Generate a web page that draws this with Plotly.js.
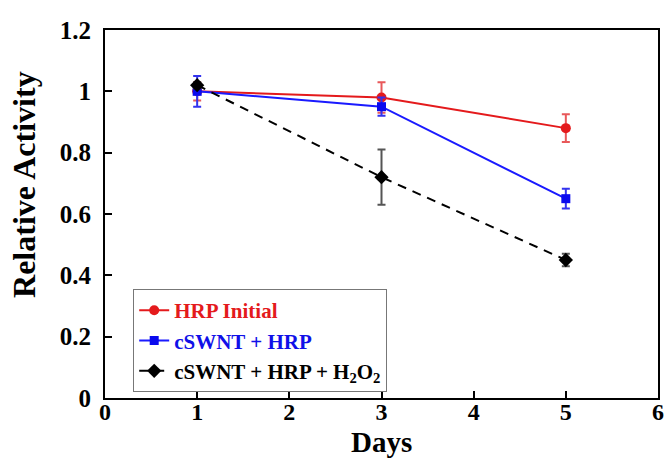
<!DOCTYPE html>
<html><head><meta charset="utf-8">
<script src="https://cdn.plot.ly/plotly-3.0.1.min.js"></script>
<style>body{margin:0;background:#fff}#c{width:665px;height:460px}</style>
</head><body><div id="c"></div>
<script>
const days = [1, 3, 5];
const hrpInitial = [1.00, 0.98, 0.88];
const hrpInitialErr = [0.03, 0.05, 0.045];
const cswntHrp = [1.00, 0.95, 0.65];
const cswntHrpErr = [0.05, 0.03, 0.032];
const cswntHrpH2o2 = [1.02, 0.72, 0.45];
const cswntHrpH2o2Err = [0.01, 0.09, 0.02];
const names = ['HRP Initial', 'cSWNT + HRP', 'cSWNT + HRP + H<sub>2</sub>O<sub>2</sub>'];
const xTicks = [0, 1, 2, 3, 4, 5, 6];
const yTicks = [0, 0.2, 0.4, 0.6, 0.8, 1, 1.2];
const xTitle = 'Days';
const yTitle = 'Relative Activity';

const F = 'Liberation Serif, Times New Roman, serif';
const RED = '#e41a1c', BLUE = '#1010e8';
const traces = [
  {x: days, y: hrpInitial, name: '<span style="color:' + RED + '">' + names[0] + '</span>', mode: 'lines+markers', type: 'scatter',
   line: {color: RED, width: 2}, marker: {symbol: 'circle', size: 10, color: RED},
   error_y: {type: 'data', array: hrpInitialErr, visible: true, color: '#e8585a', thickness: 2, width: 4}},
  {x: days, y: cswntHrp, name: '<span style="color:' + BLUE + '">' + names[1] + '</span>', mode: 'lines+markers', type: 'scatter',
   line: {color: '#1a1aff', width: 2}, marker: {symbol: 'square', size: 9, color: '#0a0aee'},
   error_y: {type: 'data', array: cswntHrpErr, visible: true, color: '#3333ee', thickness: 2, width: 4}},
  {x: days, y: cswntHrpH2o2, name: names[2], mode: 'lines+markers', type: 'scatter',
   line: {color: '#000', width: 2, dash: '9px,7px'}, marker: {symbol: 'diamond', size: 11, color: '#000'},
   error_y: {type: 'data', array: cswntHrpH2o2Err, visible: true, color: '#555', thickness: 2, width: 4}}
];
const layout = {
  width: 665, height: 460,
  margin: {l: 104.5, r: 6.5, t: 29.5, b: 62},
  paper_bgcolor: '#fff', plot_bgcolor: '#fff',
  showlegend: true,
  legend: {x: 0.051, y: 0.296, xanchor: 'left', yanchor: 'top', bgcolor: '#fff',
           bordercolor: '#777', borderwidth: 1, tracegroupgap: 0,
           font: {family: F, size: 21, weight: 'bold', color: '#000'}},
  xaxis: {range: [0, 6], tickvals: xTicks, ticktext: xTicks.map(String), showgrid: false, zeroline: false,
          showline: true, linecolor: '#000', linewidth: 2, mirror: true,
          ticks: 'inside', ticklen: 7, tickwidth: 1.5, tickcolor: '#000', ticklabelstandoff: -9,
          tickfont: {family: F, size: 24, weight: 'bold', color: '#000'}},
  yaxis: {range: [0, 1.2], tickvals: yTicks, ticktext: yTicks.map(String), showgrid: false, zeroline: false,
          showline: true, linecolor: '#000', linewidth: 2, mirror: true,
          ticks: 'inside', ticklen: 7, tickwidth: 1.5, tickcolor: '#000', ticklabelstandoff: 7,
          tickfont: {family: F, size: 25, weight: 'bold', color: '#000'}},
  annotations: [
    {text: yTitle, textangle: -90, xref: 'paper', yref: 'paper',
     x: -0.1453, y: 0.5807, xanchor: 'center', yanchor: 'middle', showarrow: false,
     font: {family: F, size: 32, weight: 'bold', color: '#000'}},
    {text: xTitle, xref: 'paper', yref: 'paper',
     x: 0.5, y: -0.1194, xanchor: 'center', yanchor: 'middle', showarrow: false, borderpad: 0,
     font: {family: F, size: 29, weight: 'bold', color: '#000'}}
  ]
};
Plotly.newPlot('c', traces, layout, {displayModeBar: false});
</script></body></html>
